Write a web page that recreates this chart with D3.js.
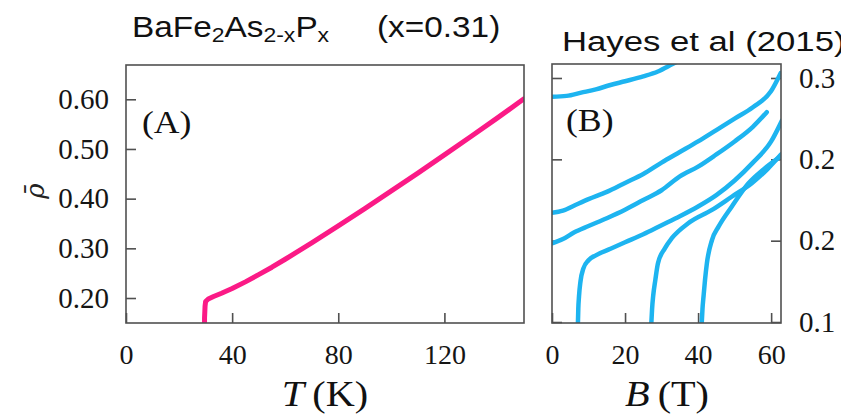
<!DOCTYPE html>
<html>
<head>
<meta charset="utf-8">
<script src="https://cdn.jsdelivr.net/npm/d3@7"></script>
<style>
  body { margin: 0; background: #fff; }
  svg { display: block; }
  .tick text { font-family: "Liberation Serif", serif; fill: #151515; }
  .tick line { stroke: #505050; stroke-width: 1.6; }
</style>
</head>
<body>
<div id="chart"></div>
<script>
// Panel A: normalised resistivity vs temperature (x = 0.31)
var tempK = [29.6, 29.6, 29.7, 29.8, 30, 31, 33, 36, 40, 45, 50, 55, 60, 70, 80, 90, 100, 110, 120, 130, 140, 150];
var rhoT  = [0.149, 0.160, 0.172, 0.184, 0.193, 0.198, 0.203, 0.2095, 0.219, 0.2325, 0.247, 0.262, 0.278, 0.311, 0.345, 0.380, 0.4155, 0.4515, 0.488, 0.525, 0.5625, 0.601];

// Panel B: field sweeps (Hayes et al 2015), one pair of arrays per curve
var fieldB1 = [0, 4, 8, 12, 16, 20, 25, 29, 33, 36];
var rhoB1   = [0.2885, 0.289, 0.291, 0.293, 0.2957, 0.298, 0.301, 0.304, 0.3086, 0.312];
var fieldB2 = [0, 3, 6, 10, 15, 20, 25, 30, 35, 40, 45, 50, 55, 60, 62.6];
var rhoB2   = [0.2172, 0.2185, 0.2215, 0.2255, 0.2300, 0.2355, 0.2410, 0.2480, 0.2545, 0.2610, 0.2680, 0.2750, 0.2820, 0.2920, 0.3030];
var fieldB3 = [0, 3, 6, 10, 15, 20, 25, 30, 35, 40, 45, 50, 55, 58.8];
var rhoB3   = [0.1984, 0.2010, 0.2050, 0.2090, 0.2138, 0.2190, 0.2250, 0.2310, 0.2395, 0.2455, 0.2530, 0.2610, 0.2700, 0.2790];
var fieldB4 = [7.1, 7.2, 7.4, 7.8, 8.6, 10, 12, 16, 20, 25, 30, 35, 40, 45, 50, 55, 60, 63];
var rhoB4   = [0.1494, 0.158, 0.166, 0.175, 0.183, 0.188, 0.191, 0.195, 0.199, 0.204, 0.2095, 0.215, 0.221, 0.228, 0.237, 0.248, 0.261, 0.274];
var fieldB5 = [27.2, 27.4, 27.7, 28.3, 29.0, 30.9, 32.8, 37.3, 43.8, 49.2, 54.7, 59, 62.7];
var rhoB5   = [0.1494, 0.158, 0.166, 0.176, 0.186, 0.1953, 0.2015, 0.2107, 0.2189, 0.2270, 0.2353, 0.2440, 0.2530];
var fieldB6 = [41.0, 41.2, 41.5, 41.9, 42.4, 43.8, 45.6, 49.2, 53.8, 58, 62.7];
var rhoB6   = [0.1494, 0.158, 0.166, 0.176, 0.186, 0.2004, 0.2086, 0.2209, 0.2353, 0.2440, 0.2520];

// tick values
var ticksAx = [0, 40, 80, 120];
var ticksAy = [0.20, 0.30, 0.40, 0.50, 0.60];
var ticksBx = [0, 20, 40, 60];
var ticksBy = [0.15, 0.20, 0.25, 0.30];

var svg = d3.select("#chart").append("svg")
    .attr("width", 841)
    .attr("height", 414);

var xA = d3.scaleLinear().domain([0, 150]).range([126, 524]);
var yA = d3.scaleLinear().domain([0.1497, 0.669]).range([323, 65]);
var xB = d3.scaleLinear().domain([0, 62.7]).range([552, 781]);
var yB = d3.scaleLinear().domain([0.1494, 0.3086]).range([323, 64]);

var defs = svg.append("defs");
defs.append("clipPath").attr("id", "clipA").append("rect")
    .attr("x", 126).attr("y", 65).attr("width", 398).attr("height", 258);
defs.append("clipPath").attr("id", "clipB").append("rect")
    .attr("x", 552).attr("y", 64).attr("width", 229).attr("height", 259);
// the source picture is cropped just right of the panel B labels
defs.append("clipPath").attr("id", "clipR").append("rect")
    .attr("x", 0).attr("y", 0).attr("width", 836).attr("height", 414);

function tidy(g, size) {
    g.select(".domain").remove();
    g.selectAll("text").style("font-size", size + "px");
}

// ---- panel A axes
svg.append("g")
    .attr("transform", "translate(126,0)")
    .call(d3.axisLeft(yA).tickValues(ticksAy).tickFormat(d3.format(".2f"))
        .tickSizeInner(-10).tickSizeOuter(0).tickPadding(17))
    .call(tidy, 29);

svg.append("g")
    .attr("transform", "translate(0,323)")
    .call(d3.axisBottom(xA).tickValues(ticksAx).tickFormat(d3.format("d"))
        .tickSizeInner(-10).tickSizeOuter(0).tickPadding(21))
    .call(tidy, 28);

// ---- panel B axes (ticks both sides, labels on right)
svg.append("g")
    .attr("transform", "translate(552,0)")
    .call(d3.axisLeft(yB).tickValues(ticksBy).tickFormat("")
        .tickSizeInner(-10).tickSizeOuter(0))
    .call(tidy, 29);

svg.append("g")
    .attr("clip-path", "url(#clipR)")
    .append("g")
    .attr("transform", "translate(781,0)")
    .call(d3.axisRight(yB).tickValues(ticksBy).tickFormat(d3.format(".2f"))
        .tickSizeInner(-10).tickSizeOuter(0).tickPadding(18))
    .call(tidy, 29);

svg.append("g")
    .attr("transform", "translate(0,323)")
    .call(d3.axisBottom(xB).tickValues(ticksBx).tickFormat(d3.format("d"))
        .tickSizeInner(-10).tickSizeOuter(0).tickPadding(21))
    .call(tidy, 28);

// ---- curves
var lineA = d3.line().x(function(d) { return xA(d[0]); }).y(function(d) { return yA(d[1]); });
var lineB = d3.line().curve(d3.curveMonotoneX)
    .x(function(d) { return xB(d[0]); }).y(function(d) { return yB(d[1]); });

svg.append("path")
    .datum(d3.zip(tempK, rhoT))
    .attr("clip-path", "url(#clipA)")
    .attr("d", lineA)
    .attr("fill", "none")
    .attr("stroke", "#fb1a86")
    .attr("stroke-width", 5)
    .attr("stroke-linejoin", "round")
    .attr("stroke-linecap", "round");

var sweeps = [
    d3.zip(fieldB1, rhoB1), d3.zip(fieldB2, rhoB2), d3.zip(fieldB3, rhoB3),
    d3.zip(fieldB4, rhoB4), d3.zip(fieldB5, rhoB5), d3.zip(fieldB6, rhoB6)
];

svg.append("g").attr("clip-path", "url(#clipB)")
    .selectAll("path")
    .data(sweeps)
    .enter().append("path")
    .attr("d", lineB)
    .attr("fill", "none")
    .attr("stroke", "#1db4f0")
    .attr("stroke-width", 4.5)
    .attr("stroke-linejoin", "round")
    .attr("stroke-linecap", "round");

// ---- frames
svg.append("rect")
    .attr("x", 126).attr("y", 65).attr("width", 398).attr("height", 258)
    .attr("fill", "none").attr("stroke", "#505050").attr("stroke-width", 1.6);
svg.append("rect")
    .attr("x", 552).attr("y", 64).attr("width", 229).attr("height", 259)
    .attr("fill", "none").attr("stroke", "#505050").attr("stroke-width", 1.6);

// ---- panel tags
svg.append("text").attr("transform", "translate(142,133) scale(1.15,1)")
    .style("font-family", "Liberation Serif").style("font-size", "31px").attr("fill", "#111")
    .text("(A)");
svg.append("text").attr("transform", "translate(566,131) scale(1.15,1)")
    .style("font-family", "Liberation Serif").style("font-size", "31px").attr("fill", "#111")
    .text("(B)");

// ---- axis titles
var tTitle = svg.append("text").attr("transform", "translate(325,406) scale(1.15,1)")
    .attr("text-anchor", "middle")
    .style("font-family", "Liberation Serif").style("font-size", "35px").attr("fill", "#111");
tTitle.append("tspan").style("font-style", "italic").text("T");
tTitle.append("tspan").text("\u2009(K)");

var bTitle = svg.append("text").attr("transform", "translate(667,406) scale(1.15,1)")
    .attr("text-anchor", "middle")
    .style("font-family", "Liberation Serif").style("font-size", "35px").attr("fill", "#111");
bTitle.append("tspan").style("font-style", "italic").text("B");
bTitle.append("tspan").text("\u2009(T)");

svg.append("text")
    .attr("transform", "translate(44,191) rotate(-90)")
    .attr("text-anchor", "middle")
    .style("font-family", "DejaVu Serif").style("font-size", "26px")
    .style("font-style", "italic").attr("fill", "#222")
    .text("\u03C1\u0304");

// ---- titles (source figure is stretched sideways a little)
var t1 = svg.append("text")
    .attr("transform", "translate(132,37) scale(1.15,1)")
    .style("font-family", "Liberation Sans").style("font-size", "29px").attr("fill", "#111");
t1.append("tspan").text("BaFe");
t1.append("tspan").attr("dy", 5).style("font-size", "20px").text("2");
t1.append("tspan").attr("dy", -5).text("As");
t1.append("tspan").attr("dy", 5).style("font-size", "20px").text("2-x");
t1.append("tspan").attr("dy", -5).text("P");
t1.append("tspan").attr("dy", 5).style("font-size", "20px").text("x");

svg.append("text")
    .attr("transform", "translate(377,37) scale(1.15,1)")
    .style("font-family", "Liberation Sans").style("font-size", "29px").attr("fill", "#111")
    .text("(x=0.31)");

svg.append("text")
    .attr("transform", "translate(562,51) scale(1.24,1)")
    .style("font-family", "Liberation Sans").style("font-size", "28px").attr("fill", "#111")
    .text("Hayes et al (2015)");
</script>
</body>
</html>
